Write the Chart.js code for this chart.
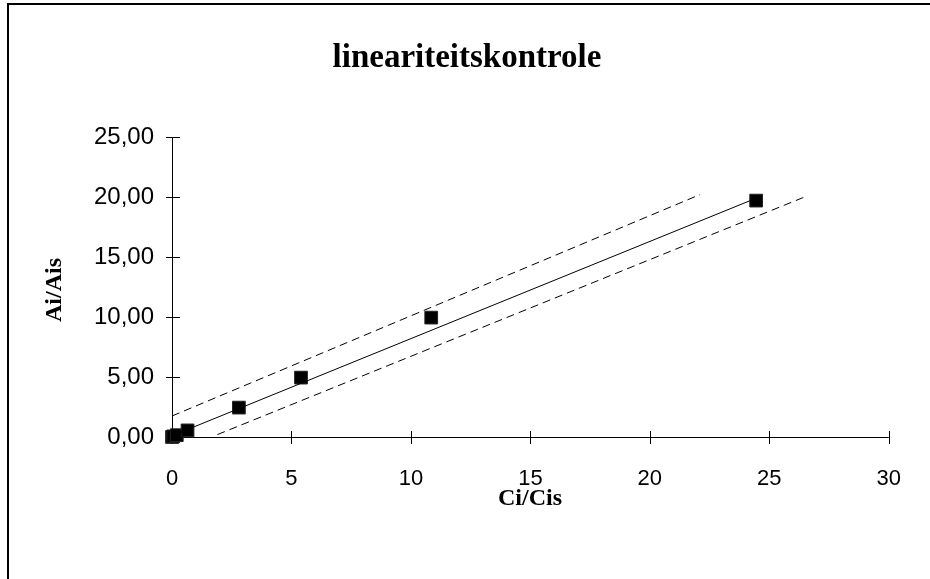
<!DOCTYPE html>
<html>
<head>
<meta charset="utf-8">
<script src="https://cdn.jsdelivr.net/npm/chart.js@4.4.1/dist/chart.umd.min.js"></script>
<style>
  html, body { margin: 0; padding: 0; background: #fff; }
  #wrap { position: relative; width: 930px; height: 579px; }
</style>
</head>
<body>
<div id="wrap"><canvas id="linChart"></canvas></div>
<script>
// meetpunten
const ciCis = [0, 0.05, 0.2, 0.65, 2.8, 5.4, 10.85, 24.45];
const aiAis = [0, 0.05, 0.15, 0.55, 2.45, 4.95, 9.95, 19.7];

const fitX = [0, 24.45];
const fitY = [0.1, 19.9];
const upperX = [0, 22.1];
const upperY = [1.75, 20.2];
const lowerX = [1.9, 26.6];
const lowerY = [0.2, 20.1];

const xTicks = [0, 5, 10, 15, 20, 25, 30];
const yTicks = [0, 5, 10, 15, 20, 25];

const chartTitle = "lineariteitskontrole";
const xTitle = "Ci/Cis";
const yTitle = "Ai/Ais";

const toPoints = (xs, ys) => xs.map((x, i) => ({ x, y: ys[i] }));

const axesPlugin = {
  id: "crossAxes",
  beforeDraw(chart) {
    const ctx = chart.ctx;
    ctx.save();
    ctx.fillStyle = "#fff";
    ctx.fillRect(0, 0, chart.width, chart.height);
    // kader links en boven
    ctx.strokeStyle = "#000";
    ctx.lineWidth = 2;
    ctx.beginPath();
    ctx.moveTo(8, chart.height);
    ctx.lineTo(8, 4);
    ctx.lineTo(chart.width, 4);
    ctx.stroke();
    ctx.restore();
  },
  beforeDatasetsDraw(chart) {
    const ctx = chart.ctx;
    const xs = chart.scales.x;
    const ys = chart.scales.y;
    const x0 = xs.getPixelForValue(0);
    const y0 = ys.getPixelForValue(0);
    ctx.save();
    ctx.strokeStyle = "#000";
    ctx.lineWidth = 1;
    ctx.beginPath();
    ctx.moveTo(xs.getPixelForValue(xTicks[xTicks.length - 1]), y0 + 0.5);
    ctx.lineTo(x0, y0 + 0.5);
    ctx.moveTo(x0 + 0.5, y0);
    ctx.lineTo(x0 + 0.5, ys.getPixelForValue(yTicks[yTicks.length - 1]));
    xTicks.forEach((v) => {
      const px = Math.round(xs.getPixelForValue(v)) + 0.5;
      ctx.moveTo(px, y0 - 6);
      ctx.lineTo(px, y0 + 7);
    });
    yTicks.forEach((v) => {
      const py = Math.round(ys.getPixelForValue(v)) + 0.5;
      ctx.moveTo(x0 - 6, py);
      ctx.lineTo(x0 + 8, py);
    });
    ctx.stroke();
    ctx.restore();
  },
  afterDraw(chart) {
    const ctx = chart.ctx;
    ctx.save();
    ctx.fillStyle = "#000";
    ctx.textAlign = "center";
    ctx.textBaseline = "middle";
    ctx.font = 'bold 33px "Liberation Serif"';
    ctx.fillText(chartTitle, 467, 58);
    ctx.font = 'bold 24px "Liberation Serif"';
    ctx.fillText(xTitle, 530, 499);
    ctx.translate(55, 290);
    ctx.rotate(-Math.PI / 2);
    ctx.fillText(yTitle, 0, 0);
    ctx.restore();
  },
};

new Chart(document.getElementById("linChart"), {
  type: "scatter",
  data: {
    datasets: [
      {
        label: "upper",
        data: toPoints(upperX, upperY),
        showLine: true,
        borderColor: "#000",
        borderWidth: 1,
        borderDash: [8, 5],
        pointRadius: 0,
      },
      {
        label: "lower",
        data: toPoints(lowerX, lowerY),
        showLine: true,
        borderColor: "#000",
        borderWidth: 1,
        borderDash: [8, 5],
        pointRadius: 0,
      },
      {
        label: "fit",
        data: toPoints(fitX, fitY),
        showLine: true,
        borderColor: "#000",
        borderWidth: 1,
        pointRadius: 0,
      },
      {
        label: "meting",
        data: toPoints(ciCis, aiAis),
        pointStyle: "rect",
        pointRadius: 9,
        pointHoverRadius: 9,
        backgroundColor: "#000",
        borderColor: "#222",
        borderWidth: 1,
        clip: false,
      },
    ],
  },
  options: {
    responsive: true,
    maintainAspectRatio: false,
    animation: false,
    layout: { padding: { top: 137, right: 38, left: 0, bottom: 0 } },
    plugins: {
      legend: { display: false },
      title: { display: false },
      tooltip: { enabled: false },
    },
    scales: {
      x: {
        type: "linear",
        min: 0,
        max: 30,
        afterBuildTicks: (scale) => { scale.ticks = xTicks.map((v) => ({ value: v })); },
        afterFit: (scale) => { scale.height = 142; },
        grid: { display: false, drawTicks: false, tickLength: 0 },
        border: { display: false },
        ticks: {
          color: "#000",
          padding: 29,
          font: { family: '"Liberation Sans", Arial', size: 22 },
        },
      },
      y: {
        type: "linear",
        min: 0,
        max: 25,
        afterBuildTicks: (scale) => { scale.ticks = yTicks.map((v) => ({ value: v })); },
        afterFit: (scale) => { scale.width = 172; },
        grid: { display: false, drawTicks: false, tickLength: 0 },
        border: { display: false },
        ticks: {
          color: "#000",
          padding: 18,
          font: { family: '"Liberation Sans", Arial', size: 24 },
          callback: (v) => v.toFixed(2).replace(".", ","),
        },
      },
    },
  },
  plugins: [axesPlugin],
});
</script>
</body>
</html>
